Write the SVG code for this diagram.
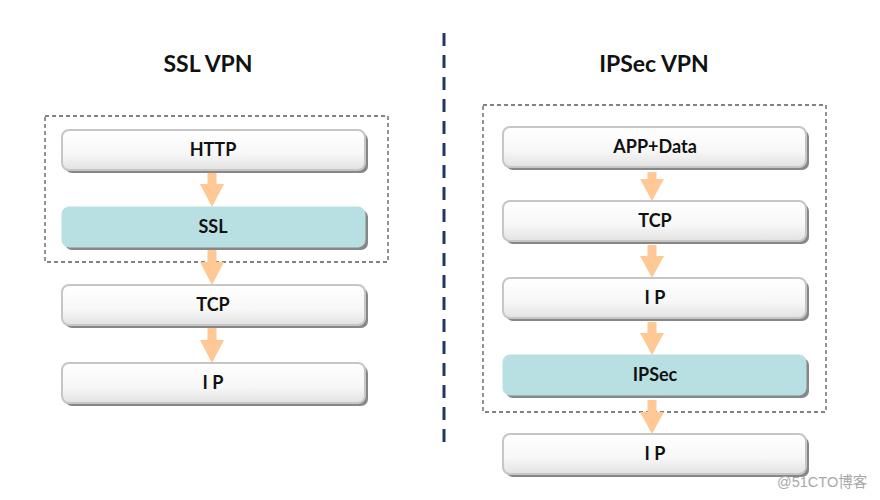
<svg xmlns="http://www.w3.org/2000/svg" width="880" height="500" viewBox="0 0 880 500">
<defs>
<linearGradient id="gw" x1="0" y1="0" x2="0" y2="1">
<stop offset="0" stop-color="#ffffff"/>
<stop offset="0.6" stop-color="#f7f7f7"/>
<stop offset="1" stop-color="#e2e2e2"/>
</linearGradient>
</defs>
<style>
.title{font-family:Lato,"Open Sans","Liberation Sans",sans-serif;font-weight:bold;font-size:23px;fill:#111;text-anchor:middle}
.lbl{font-family:Lato,"Open Sans","Liberation Sans",sans-serif;font-weight:bold;font-size:18px;fill:#111;text-anchor:middle}
.shadow{fill:#878787}
.wbox{fill:url(#gw);stroke:#c6c6c6;stroke-width:2}
.tbox{fill:#b8dfe1;stroke:#b8dfe1;stroke-width:1}
.grp{fill:none;stroke:#5a5a5a;stroke-width:1.3;stroke-dasharray:4 3}
.arrow{fill:#ffc894}
.divider{stroke:#1f3864;stroke-width:3;stroke-dasharray:13 9}
.wm{font-family:"Liberation Sans","Noto Sans CJK SC",sans-serif;font-size:14.5px;fill:#a8a8a8}
</style>
<rect width="880" height="500" fill="#ffffff"/>
<line class="divider" x1="444" y1="33" x2="444" y2="442"/>
<text class="title" x="208" y="72">SSL VPN</text>
<text class="title" x="654" y="72">IPSec VPN</text>
<rect class="grp" x="45" y="116" width="343" height="146"/>
<rect class="grp" x="483" y="105" width="343" height="307"/>
<g id="connectors">
<polygon class="arrow" points="207.5,173 216.5,173 216.5,184 224,184 212,207 200,184 207.5,184"/>
<polygon class="arrow" points="207.5,250 216.5,250 216.5,262 224,262 212,285 200,262 207.5,262"/>
<polygon class="arrow" points="207.5,328 216.5,328 216.5,340 224,340 212,363 200,340 207.5,340"/>
<polygon class="arrow" points="647.5,172 656.5,172 656.5,179 664,179 652,201 640,179 647.5,179"/>
<polygon class="arrow" points="647.5,245 656.5,245 656.5,256 664,256 652,278 640,256 647.5,256"/>
<polygon class="arrow" points="647.5,322 656.5,322 656.5,333 664,333 652,355 640,333 647.5,333"/>
<polygon class="arrow" points="647.5,400 656.5,400 656.5,412 664,412 652,434 640,412 647.5,412"/>
</g>
<g id="ssl-http">
<rect class="shadow" x="65" y="133" width="303" height="40" rx="7"/>
<rect class="wbox" x="62" y="130" width="303" height="40" rx="7"/>
<text class="lbl" x="213" y="156">HTTP</text>
</g>
<g id="ssl-ssl">
<rect class="shadow" x="65" y="210" width="303" height="40" rx="7"/>
<rect class="tbox" x="62" y="207" width="303" height="40" rx="7"/>
<text class="lbl" x="213" y="233">SSL</text>
</g>
<g id="ssl-tcp">
<rect class="shadow" x="65" y="288" width="303" height="40" rx="7"/>
<rect class="wbox" x="62" y="285" width="303" height="40" rx="7"/>
<text class="lbl" x="213" y="311">TCP</text>
</g>
<g id="ssl-ip">
<rect class="shadow" x="65" y="366" width="303" height="40" rx="7"/>
<rect class="wbox" x="62" y="363" width="303" height="40" rx="7"/>
<text class="lbl" x="213" y="389">I P</text>
</g>
<g id="ipsec-app">
<rect class="shadow" x="506" y="130" width="303" height="40" rx="7"/>
<rect class="wbox" x="503" y="127" width="303" height="40" rx="7"/>
<text class="lbl" x="655" y="153">APP+Data</text>
</g>
<g id="ipsec-tcp">
<rect class="shadow" x="506" y="204" width="303" height="40" rx="7"/>
<rect class="wbox" x="503" y="201" width="303" height="40" rx="7"/>
<text class="lbl" x="655" y="227">TCP</text>
</g>
<g id="ipsec-ip1">
<rect class="shadow" x="506" y="281" width="303" height="40" rx="7"/>
<rect class="wbox" x="503" y="278" width="303" height="40" rx="7"/>
<text class="lbl" x="655" y="304">I P</text>
</g>
<g id="ipsec-ipsec">
<rect class="shadow" x="506" y="358" width="303" height="40" rx="7"/>
<rect class="tbox" x="503" y="355" width="303" height="40" rx="7"/>
<text class="lbl" x="655" y="381">IPSec</text>
</g>
<g id="ipsec-ip2">
<rect class="shadow" x="506" y="437" width="303" height="40" rx="7"/>
<rect class="wbox" x="503" y="434" width="303" height="40" rx="7"/>
<text class="lbl" x="655" y="460">I P</text>
</g>
<text class="wm" x="777" y="487">@51CTO博客</text>
</svg>
